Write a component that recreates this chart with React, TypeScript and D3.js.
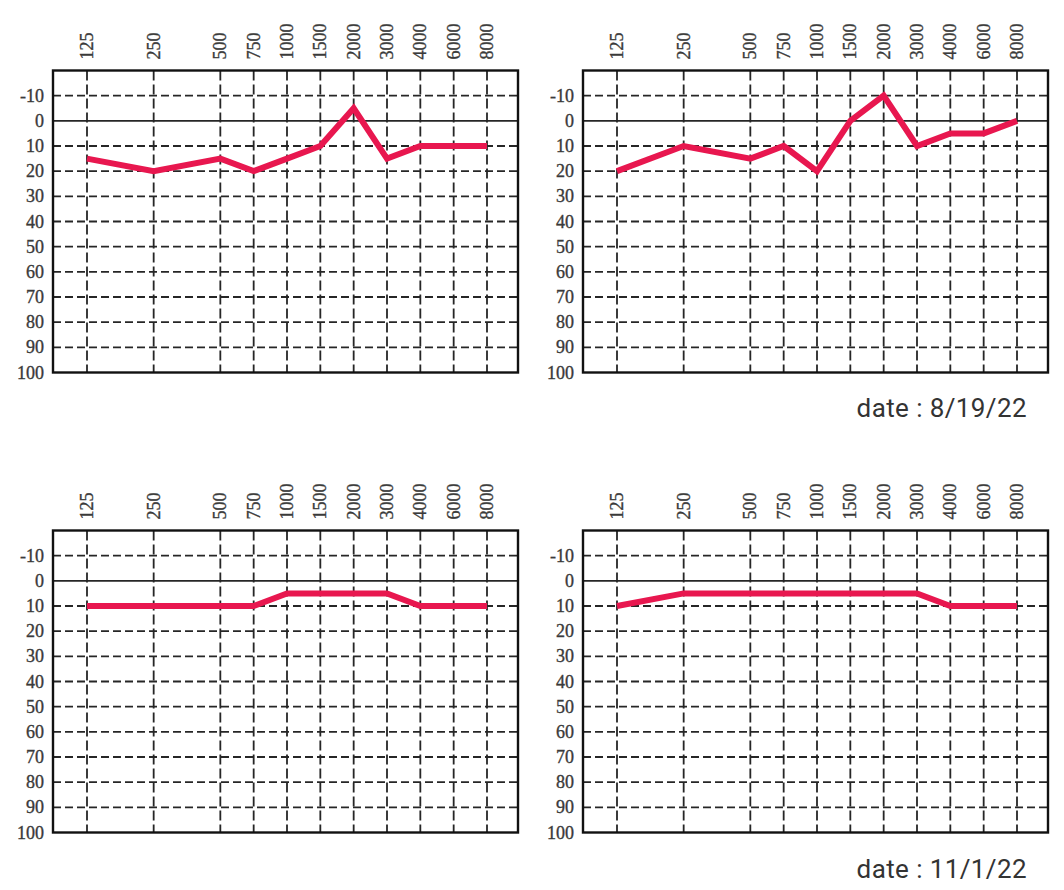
import React from 'react';
import * as d3 from 'd3';

// frequencies (Hz) and their column position on the audiogram
const freqLabels = ['125', '250', '500', '750', '1000', '1500', '2000', '3000', '4000', '6000', '8000'];
const freqSlots = [0, 2, 4, 5, 6, 7, 8, 9, 10, 11, 12];

// hearing level ticks (dB)
const dbTicks = [-10, 0, 10, 20, 30, 40, 50, 60, 70, 80, 90, 100];

// thresholds per panel
const topLeft = [15, 20, 15, 20, 15, 10, -5, 15, 10, 10, 10];
const topRight = [20, 10, 15, 10, 20, 0, -10, 10, 5, 5, 0];
const bottomLeft = [10, 10, 10, 10, 5, 5, 5, 5, 10, 10, 10];
const bottomRight = [10, 5, 5, 5, 5, 5, 5, 5, 10, 10, 10];

const dates = ['date : 8/19/22', 'date : 11/1/22'];

const W = 1064;
const H = 890;
const plotW = 465;
const plotH = 302;
const lineColor = '#e8174f';
const gridColor = '#262626';
const labelFont = '"Liberation Serif", serif';

interface PanelProps {
  values: number[];
  left: number;
  top: number;
}

const Panel: React.FC<PanelProps> = ({ values, left, top }) => {
  const x = d3.scaleLinear().domain([-1.02, 12.93]).range([left, left + plotW]);
  const y = d3.scaleLinear().domain([-20, 100]).range([top, top + plotH]);

  const pts = values.map((v, i) => ({ slot: freqSlots[i], v }));
  const line = d3
    .line<{ slot: number; v: number }>()
    .x((d) => x(d.slot))
    .y((d) => y(d.v));

  return (
    <g>
      {/* horizontal grid */}
      {dbTicks
        .filter((t) => t < 100)
        .map((t) => (
          <line
            key={'h' + t}
            x1={left}
            x2={left + plotW}
            y1={y(t)}
            y2={y(t)}
            stroke={gridColor}
            strokeWidth={1.8}
            strokeDasharray={t === 0 ? undefined : '8,4'}
          />
        ))}
      {/* vertical grid */}
      {freqSlots.map((s) => (
        <line
          key={'v' + s}
          x1={x(s)}
          x2={x(s)}
          y1={top}
          y2={top + plotH}
          stroke={gridColor}
          strokeWidth={1.8}
          strokeDasharray="10,4"
        />
      ))}
      <rect x={left} y={top} width={plotW} height={plotH} fill="none" stroke="#111" strokeWidth={2.4} />
      {/* y labels */}
      {dbTicks.map((t) => (
        <text
          key={'yl' + t}
          x={left - 9}
          y={y(t)}
          textAnchor="end"
          dominantBaseline="central"
          fontFamily={labelFont}
          fontSize={18}
          fill="#3a3a3a"
          stroke="#3a3a3a"
          strokeWidth={0.35}
        >
          {t}
        </text>
      ))}
      {/* x labels, rotated */}
      {freqSlots.map((s, i) => (
        <text
          key={'xl' + s}
          transform={`translate(${x(s)},${top - 11}) rotate(-90)`}
          textAnchor="start"
          dominantBaseline="central"
          fontFamily={labelFont}
          fontSize={18}
          fill="#3a3a3a"
          stroke="#3a3a3a"
          strokeWidth={0.35}
        >
          {freqLabels[i]}
        </text>
      ))}
      <path d={line(pts) ?? ''} fill="none" stroke={lineColor} strokeWidth={6} strokeLinejoin="miter" />
    </g>
  );
};

const App: React.FC = () => {
  return (
    <div style={{ position: 'absolute', left: 0, top: 0 }}>
      <svg width={W} height={H} style={{ display: 'block', background: '#fff' }}>
        <Panel values={topLeft} left={53} top={70.5} />
        <Panel values={topRight} left={583} top={70.5} />
        <Panel values={bottomLeft} left={53} top={530.5} />
        <Panel values={bottomRight} left={583} top={530.5} />
        {dates.map((d, i) => (
          <text
            key={d}
            x={1027}
            y={i === 0 ? 417 : 878}
            textAnchor="end"
            fontFamily="Roboto, 'Liberation Sans', sans-serif"
            fontSize={26}
            letterSpacing={0.4}
            fill="#333"
          >
            {d}
          </text>
        ))}
      </svg>
    </div>
  );
};

export default App;
